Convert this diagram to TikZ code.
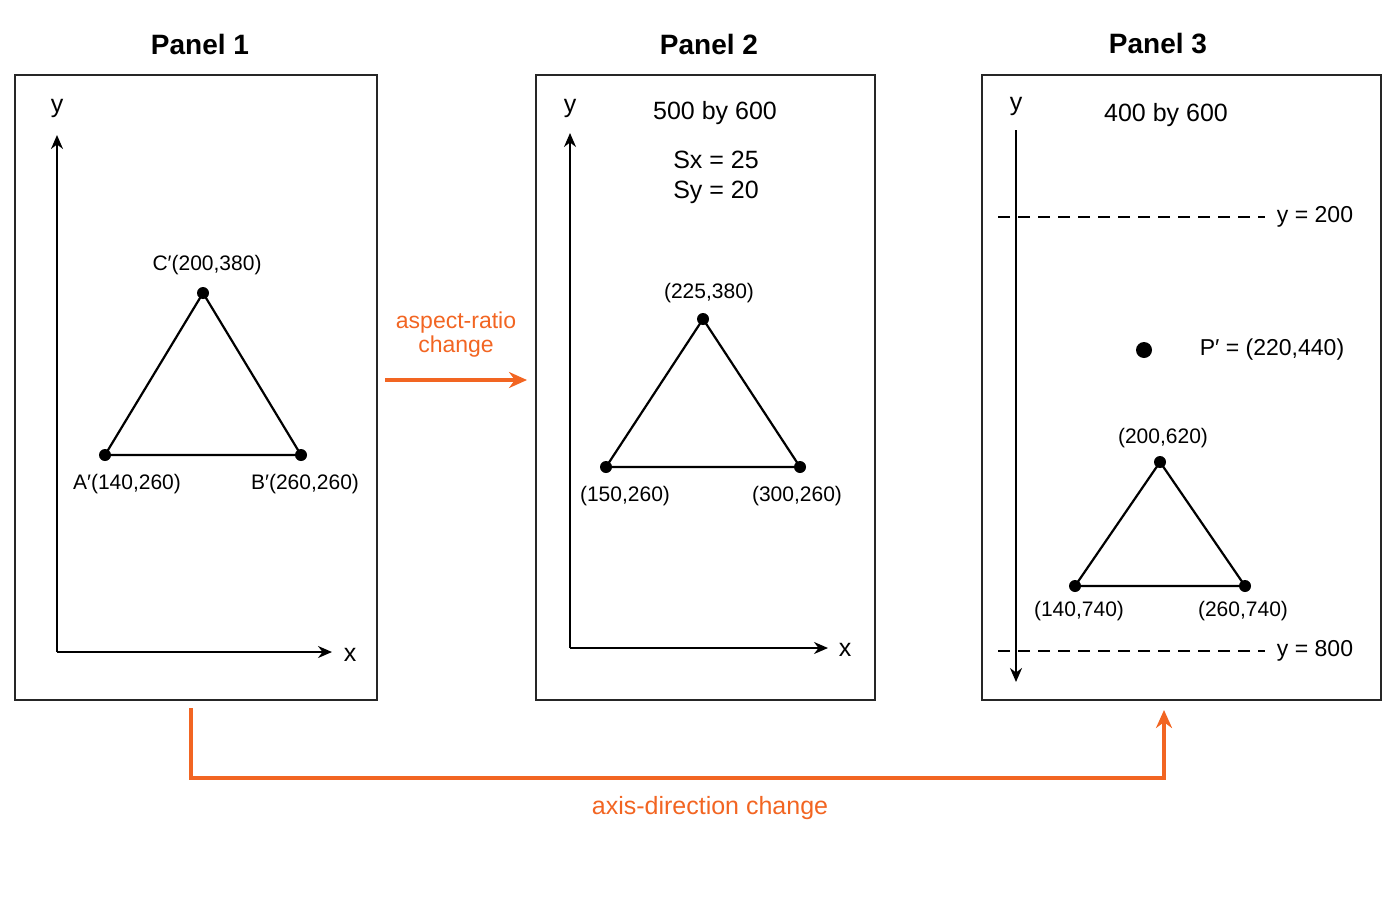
\documentclass[tikz,border=0pt]{standalone}
\usepackage{fontspec}
\setmainfont{Liberation Sans}
\usetikzlibrary{arrows.meta}
\definecolor{org}{HTML}{F26522}
\begin{document}
\begin{tikzpicture}[x=0.5pt,y=-0.5pt,
  panel/.style={draw=black!85,line width=1.2pt},
  title/.style={font=\fontsize{14}{16}\selectfont\bfseries},
  lab/.style={font=\fontsize{10.5}{12}\selectfont},
  big/.style={font=\fontsize{12.5}{14}\selectfont},
  axis/.style={line width=1pt,-{Stealth[length=7pt,width=6pt]}},
  tri/.style={line width=1.1pt},
  dot/.style={circle,fill=black,inner sep=0pt,minimum size=6pt},
  dashl/.style={line width=0.8pt,dash pattern=on 6pt off 4pt},
  oarrow/.style={draw=org,line width=1.6pt,-{Stealth[length=9pt,width=8pt]}},
  otext/.style={text=org,font=\fontsize{11.5}{14}\selectfont}]
\useasboundingbox (0,0) rectangle (1400,900);
% titles
\node[title] (t1) at (200,44) {Panel 1};
\node[title] (t2) at (709,44) {Panel 2};
\node[title] (t3) at (1158,44) {Panel 3};
\draw[panel] (15,75) rectangle (377,700);
\draw[panel] (536,75) rectangle (875,700);
\draw[panel] (982,75) rectangle (1381,700);
% panel 1
\coordinate (o1) at (57,652);
\coordinate (y1) at (57,135);
\coordinate (x1) at (332,652);
\draw[axis] (o1) -- (y1);
\draw[axis] (o1) -- (x1);
\node[big] (ly1) at (57,108) {y};
\node[big] (lx1) at (350,655) {x};
\node[dot] (c1) at (203,293) {};
\node[dot] (a1) at (105,455) {};
\node[dot] (b1) at (301,455) {};
\draw[tri] (a1.center) -- (b1.center) -- (c1.center) -- cycle;
\node[lab] (lc1) at (207,265) {C′(200,380)};
\node[lab] (la1) at (127,484) {A′(140,260)};
\node[lab] (lb1) at (305,484) {B′(260,260)};
% orange arrow 1
\coordinate (ar1) at (385,380);
\coordinate (ar2) at (527,380);
\draw[oarrow] (ar1) -- (ar2);
\node[otext,align=center] (asp) at (456,335) {aspect-ratio\\[-2pt]change};
% panel 2
\coordinate (o2) at (570,648);
\coordinate (y2) at (570,133);
\coordinate (x2) at (828,648);
\draw[axis] (o2) -- (y2);
\draw[axis] (o2) -- (x2);
\node[big] (ly2) at (570,108) {y};
\node[big] (lx2) at (845,650) {x};
\node[big] (d2) at (715,113) {500 by 600};
\node[big] (sx) at (716,160) {Sx = 25};
\node[big] (sy) at (716,192) {Sy = 20};
\node[dot] (c2) at (703,319) {};
\node[dot] (a2) at (606,467) {};
\node[dot] (b2) at (800,467) {};
\draw[tri] (a2.center) -- (b2.center) -- (c2.center) -- cycle;
\node[lab] (lc2) at (709,293) {(225,380)};
\node[lab] (la2) at (625,496) {(150,260)};
\node[lab] (lb2) at (797,496) {(300,260)};
% panel 3
\coordinate (o3) at (1016,130);
\coordinate (e3) at (1016,682);
\draw[axis] (o3) -- (e3);
\node[big] (ly3) at (1016,106) {y};
\node[big] (d3) at (1166,115) {400 by 600};
\coordinate (d1s) at (998,217);
\coordinate (d1e) at (1265,217);
\coordinate (d2s) at (998,651);
\coordinate (d2e) at (1265,651);
\draw[dashl] (d1s) -- (d1e);
\draw[dashl] (d2s) -- (d2e);
\node[font=\fontsize{11.5}{13}\selectfont] (ly200) at (1315,217) {y = 200};
\node[font=\fontsize{11.5}{13}\selectfont] (ly800) at (1315,651) {y = 800};
\node[dot,minimum size=8pt] (p) at (1144,350) {};
\node[font=\fontsize{11.5}{13}\selectfont] (lp) at (1272,350) {P′ = (220,440)};
\node[dot] (c3) at (1160,462) {};
\node[dot] (a3) at (1075,586) {};
\node[dot] (b3) at (1245,586) {};
\draw[tri] (a3.center) -- (b3.center) -- (c3.center) -- cycle;
\node[lab] (lc3) at (1163,438) {(200,620)};
\node[lab] (la3) at (1079,611) {(140,740)};
\node[lab] (lb3) at (1243,611) {(260,740)};
% bottom arrow
\coordinate (bs) at (191,708);
\coordinate (be) at (1164,710);
\draw[oarrow] (bs) -- (191,778) -- (1164,778) -- (be);
\node[otext,font=\fontsize{12.5}{14}\selectfont] (axd) at (710,808) {axis-direction change};
\end{tikzpicture}
\end{document}
